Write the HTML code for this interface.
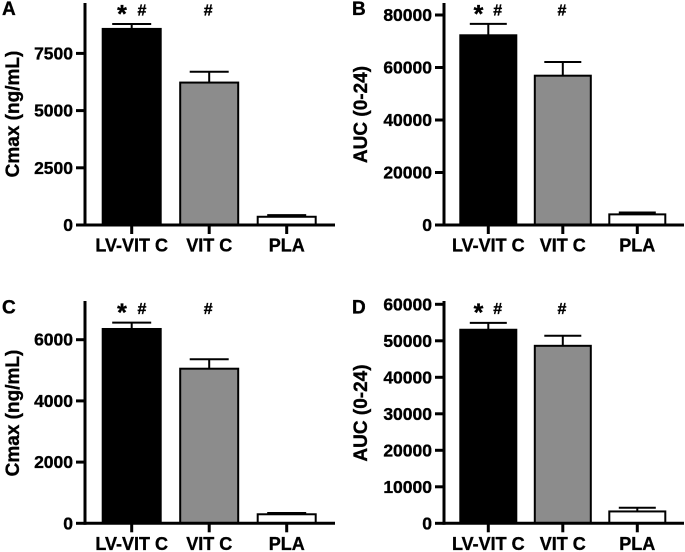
<!DOCTYPE html>
<html>
<head>
<meta charset="utf-8">
<title>Cmax and AUC bar charts</title>
<style>
html,body{margin:0;padding:0;background:#fff;}
svg{display:block;font-family:"Liberation Sans",Arial,sans-serif;font-weight:bold;fill:#000;filter:blur(0.3px);}
svg text{stroke:#000;stroke-width:0.35px;}
</style>
</head>
<body>
<svg id="figure" width="685" height="552" viewBox="0 0 685 552" xmlns="http://www.w3.org/2000/svg"></svg>
<script>
var categories = ['LV-VIT C', 'VIT C', 'PLA'];

var cmaxATicks = [0, 2500, 5000, 7500];
var cmaxAMeans = [8570, 6225, 360];
var cmaxAErrors = [215, 475, 70];

var aucBTicks = [0, 20000, 40000, 60000, 80000];
var aucBMeans = [72270, 56880, 4050];
var aucBErrors = [4330, 5220, 700];

var cmaxCTicks = [0, 2000, 4000, 6000];
var cmaxCMeans = [6350, 5052, 295];
var cmaxCErrors = [206, 308, 40];

var aucDTicks = [0, 10000, 20000, 30000, 40000, 50000, 60000];
var aucDMeans = [53026, 48626, 3250];
var aucDErrors = [1874, 2774, 1000];

var SVGNS = 'http://www.w3.org/2000/svg';
var svg = document.getElementById('figure');
var fills = ['#000000', '#8c8c8c', '#ffffff'];

function mk(parent, tag, attrs, text) {
  var el = document.createElementNS(SVGNS, tag);
  for (var k in attrs) el.setAttribute(k, attrs[k]);
  if (text !== undefined) el.textContent = text;
  parent.appendChild(el);
  return el;
}

function drawPanel(p) {
  var g = mk(svg, 'g', {});
  
  

  function y(v) { return p.base - v * p.pxPerUnit; }
  function x(i) { return p.x0 + i * p.step; }

  var letter = mk(g, 'text', {x: p.letterX, y: p.base - p.letterDy, 'font-size': 19}, p.id.toUpperCase());
  
  

  var title = mk(g, 'text', {
    transform: 'translate(' + p.titleX + ',' + p.titleY + ') rotate(-90)',
    'text-anchor': 'middle', 'font-size': 19
  }, p.title);
  
  

  // bars and error bars
  categories.forEach(function (c, i) {
    var cx = x(i), top = y(p.means[i]), errTop = y(p.means[i] + p.errors[i]);
    var stem = mk(g, 'line', {x1: cx, x2: cx, y1: errTop, y2: top, stroke: '#000', 'stroke-width': 2});
    
    
    var cap = mk(g, 'line', {x1: cx - p.capHalf, x2: cx + p.capHalf, y1: errTop, y2: errTop, stroke: '#000', 'stroke-width': 2});
    
    
    var bar = mk(g, 'rect', {
      x: cx - p.barHalf, y: top, width: p.barHalf * 2, height: p.base - top,
      fill: fills[i], stroke: '#000', 'stroke-width': 2
    });
    
    

    var tick = mk(g, 'line', {x1: cx, x2: cx, y1: p.base, y2: p.base + 9, stroke: '#000', 'stroke-width': 3});
    
    
    var lab = mk(g, 'text', {x: cx, y: p.base + 26.5, 'text-anchor': 'middle', 'font-size': 18}, c);
    
    
  });

  // axes
  var yAxis = mk(g, 'line', {x1: p.axisX, x2: p.axisX, y1: p.axisTop, y2: p.base + 1.5, stroke: '#000', 'stroke-width': 3});
  
  
  var xAxis = mk(g, 'line', {x1: p.axisX, x2: p.axisRight, y1: p.base, y2: p.base, stroke: '#000', 'stroke-width': 3});
  
  

  p.ticks.forEach(function (t) {
    var tk = mk(g, 'line', {x1: p.axisX - 9, x2: p.axisX, y1: y(t), y2: y(t), stroke: '#000', 'stroke-width': 3});
    
    
    var tl = mk(g, 'text', {x: p.axisX - 12, y: y(t) + 6, 'text-anchor': 'end', 'font-size': 17.5}, String(t));
    
    
  });

  // significance marks
  var star = mk(g, 'text', {x: p.starX, y: p.base - p.markDy + 12.5, 'text-anchor': 'middle', 'font-size': 25}, '*');
  
  
  p.hashX.forEach(function (hx) {
    var h = mk(g, 'text', {x: hx, y: p.base - p.markDy + 5.5, 'text-anchor': 'middle', 'font-size': 16, 'font-style': 'italic'}, '#');
    
    
  });
}

drawPanel({id: 'a', title: 'Cmax (ng/mL)', ticks: cmaxATicks, means: cmaxAMeans, errors: cmaxAErrors,
  base: 225, pxPerUnit: 57.2 / 2500, axisX: 85, axisTop: 3, axisRight: 335,
  x0: 131.7, step: 77.5, barHalf: 29, capHalf: 19.5, letterX: 2, letterDy: 210, titleX: 19, titleY: 114,
  starX: 122, hashX: [141.7, 208], markDy: 215});

drawPanel({id: 'b', title: 'AUC (0-24)', ticks: aucBTicks, means: aucBMeans, errors: aucBErrors,
  base: 225, pxPerUnit: 52.5 / 20000, axisX: 444, axisTop: 3, axisRight: 684,
  x0: 488.3, step: 74.5, barHalf: 28, capHalf: 18.5, letterX: 352, letterDy: 210, titleX: 367, titleY: 114.5,
  starX: 478.5, hashX: [497.5, 561.7], markDy: 215});

drawPanel({id: 'c', title: 'Cmax (ng/mL)', ticks: cmaxCTicks, means: cmaxCMeans, errors: cmaxCErrors,
  base: 523.3, pxPerUnit: 61.2 / 2000, axisX: 85, axisTop: 301, axisRight: 335,
  x0: 131.7, step: 77.5, barHalf: 29, capHalf: 19.5, letterX: 2, letterDy: 210, titleX: 19, titleY: 413,
  starX: 122, hashX: [141.7, 208], markDy: 215});

drawPanel({id: 'd', title: 'AUC (0-24)', ticks: aucDTicks, means: aucDMeans, errors: aucDErrors,
  base: 523.3, pxPerUnit: 36.5 / 10000, axisX: 444, axisTop: 301, axisRight: 684,
  x0: 488.3, step: 74.5, barHalf: 28, capHalf: 18.5, letterX: 352, letterDy: 210, titleX: 367, titleY: 413,
  starX: 478.5, hashX: [497.5, 561.7], markDy: 215});
</script>
</body>
</html>
